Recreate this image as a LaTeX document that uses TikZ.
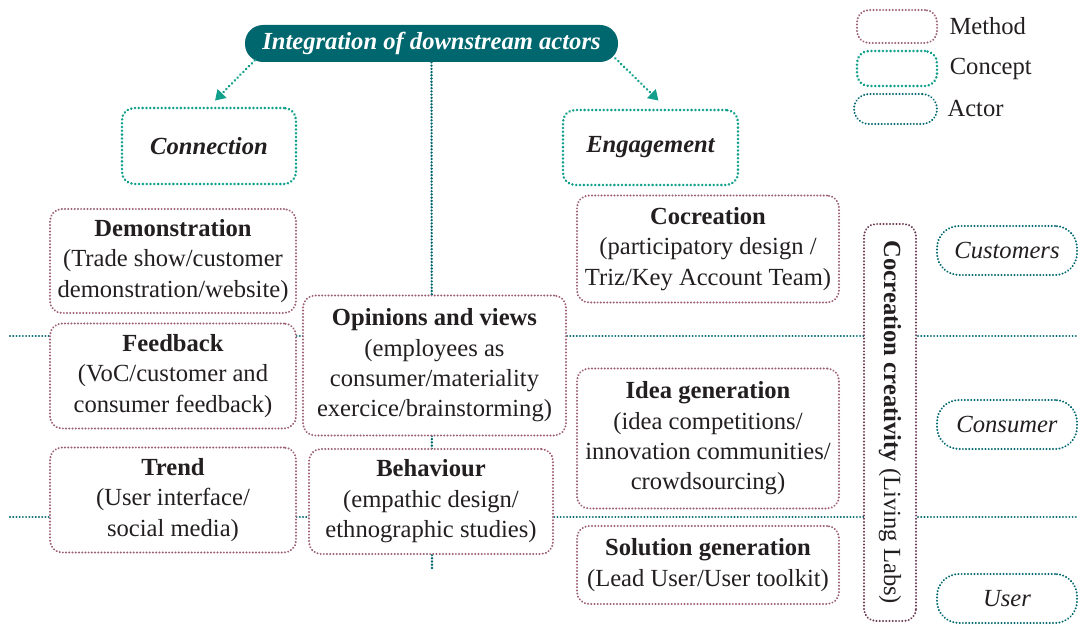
\documentclass[tikz,border=0pt]{standalone}
\usepackage{fontspec}
\setmainfont{Liberation Serif}
\usetikzlibrary{calc}
\usetikzlibrary{positioning}
\usetikzlibrary{arrows.meta}

\definecolor{darkteal}{HTML}{00676E}
\definecolor{conceptgreen}{HTML}{12A08C}
\definecolor{methodrose}{HTML}{9C5F74}
\definecolor{labsplum}{HTML}{6A3A52}
\definecolor{inktext}{HTML}{231F20}

\begin{document}
\begin{tikzpicture}[x=0.5pt,y=-0.5pt,
    every node/.style={align=center,text=inktext,font=\fontsize{12.3}{15.2}\selectfont},
    dots/.style={line width=1.1pt,dash pattern=on 0.01pt off 1.6pt,line cap=round},
    method/.style={dots,draw=methodrose,fill=white,rounded corners=6pt,inner sep=0pt},
    concept/.style={dots,draw=conceptgreen,line width=1.4pt,dash pattern=on 0.01pt off 1.9pt,fill=white,rounded corners=6pt,inner sep=0pt},
    actor/.style={dots,draw=darkteal,fill=white,rounded corners=11pt,inner sep=0pt,font=\fontsize{12.3}{15.2}\selectfont\itshape},
    layer/.style={dots,draw=darkteal},
    branch/.style={dots,draw=conceptgreen,line width=1.4pt,dash pattern=on 0.01pt off 2pt,-{Triangle[length=5pt,width=6pt]}}]
\useasboundingbox (0,0) rectangle (1078,626);

\node[fill=darkteal,rounded corners=9pt,minimum width=186.5pt,minimum height=18.5pt,inner sep=0pt,text=white,
    font=\fontsize{12.3}{15.2}\selectfont\bfseries\itshape] (top) at (431.5,43.5) {Integration of downstream actors};

\coordinate (l1a) at (10,336); \coordinate (l1b) at (1078,336);
\coordinate (l2a) at (10,517); \coordinate (l2b) at (1078,517);
\coordinate (axisend) at (432,568);
\draw[layer] (l1a) -- (l1b);
\draw[layer] (l2a) -- (l2b);
\draw[layer,line width=1.3pt] (top.south) -- (axisend);

\node[concept,minimum width=87pt,minimum height=38pt,font=\fontsize{12.3}{15.2}\selectfont\bfseries\itshape] (conn) at (209,146) {Connection};
\node[concept,minimum width=87.5pt,minimum height=37.5pt,font=\fontsize{12.3}{15.2}\selectfont\bfseries\itshape] (eng) at (650.5,147.5) {Engagement};
\draw[branch] ([xshift=5pt,yshift=1pt]top.south west) -- ([xshift=3pt,yshift=3pt]conn.north);
\draw[branch] ([xshift=-1.5pt,yshift=2pt]top.south east) -- ([xshift=4pt,yshift=4pt]eng.north);

\node[method,minimum width=123pt,minimum height=52pt] (demo) at (173,261) {\textbf{Demonstration}\\(Trade show/customer\\demonstration/website)};
\node[method,minimum width=123pt,minimum height=52.5pt] (feedback) at (173,376) {\textbf{Feedback}\\(VoC/customer and\\consumer feedback)};
\node[method,minimum width=123pt,minimum height=52.5pt] (trend) at (173,500) {\textbf{Trend}\\(User interface/\\social media)};
\node[method,minimum width=131.5pt,minimum height=70pt] (opinions) at (434.5,365.5) {\textbf{Opinions and views}\\(employees as\\consumer/materiality\\exercice/brainstorming)};
\node[method,minimum width=122pt,minimum height=52.5pt] (behaviour) at (431,501.5) {\textbf{Behaviour}\\(empathic design/\\ethnographic studies)};
\node[method,minimum width=131pt,minimum height=53.5pt] (cocreation) at (708,249) {\textbf{Cocreation}\\(participatory design /\\Triz/Key Account Team)};
\node[method,minimum width=131pt,minimum height=70pt] (idea) at (708,438.5) {\textbf{Idea generation}\\(idea competitions/\\innovation communities/\\crowdsourcing)};
\node[method,minimum width=131pt,minimum height=39pt] (solution) at (708,565) {\textbf{Solution generation}\\(Lead User/User toolkit)};

\node[method,draw=labsplum,rotate=-90,minimum width=198.5pt,minimum height=26pt] (labs) at (890,422.5) {\textbf{Cocreation creativity} (Living Labs)};

\node[actor,minimum width=70pt,minimum height=24.5pt] (customers) at (1007,250.5) {Customers};
\node[actor,minimum width=70pt,minimum height=24.5pt] (consumer) at (1007,424.5) {Consumer};
\node[actor,minimum width=70pt,minimum height=24.5pt] (user) at (1007,598.5) {User};

\node[method,minimum width=40pt,minimum height=16.5pt] (keymethod) at (897,26.5) {};
\node[concept,minimum width=40pt,minimum height=17.5pt] (keyconcept) at (897,68.5) {};
\node[actor,rounded corners=7.5pt,minimum width=41.5pt,minimum height=15pt] (keyactor) at (895.5,109) {};
\node[inner sep=0pt,anchor=west,right=5.5pt of keymethod] (keymethodlabel) {Method};
\node[inner sep=0pt,anchor=west,right=5.5pt of keyconcept] (keyconceptlabel) {Concept};
\node[inner sep=0pt,anchor=west,right=4.5pt of keyactor] (keyactorlabel) {Actor};
\end{tikzpicture}
\end{document}
